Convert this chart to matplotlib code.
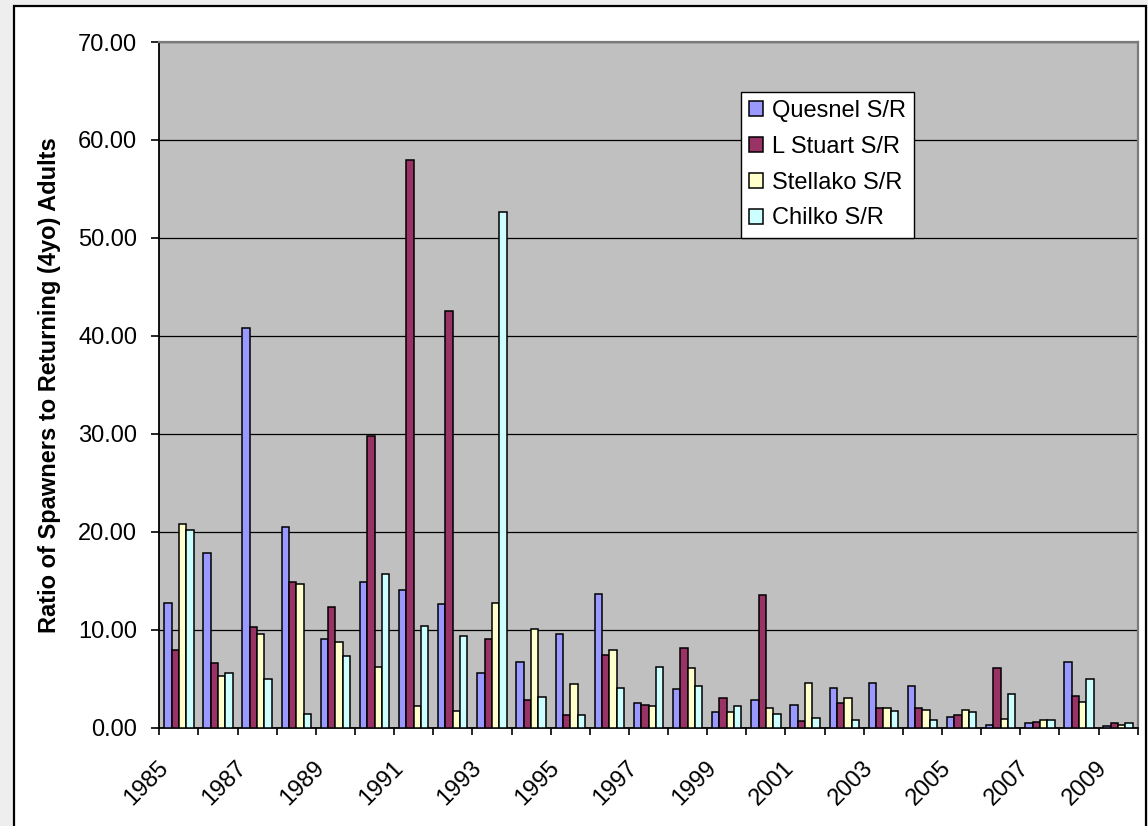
import matplotlib
matplotlib.use("Agg")
import matplotlib.pyplot as plt
from matplotlib.patches import Rectangle
from matplotlib.transforms import ScaledTranslation
import numpy as np

years = list(range(1985, 2010))
series_names = ["Quesnel S/R", "L Stuart S/R", "Stellako S/R", "Chilko S/R"]
quesnel = [12.7, 17.8, 40.8, 20.45, 9.0, 14.9, 14.0, 12.6, 5.6, 6.7, 9.5, 13.65, 2.5,
           3.9, 1.55, 2.8, 2.33, 4.06, 4.5, 4.2, 1.06, 0.3, 0.45, 6.67, 0.14]
l_stuart = [7.9, 6.55, 10.25, 14.9, 12.3, 29.8, 57.9, 42.5, 9.0, 2.8, 1.25, 7.45, 2.3,
            8.1, 2.98, 13.5, 0.63, 2.5, 2.0, 2.0, 1.24, 6.1, 0.58, 3.26, 0.41]
stellako = [20.8, 5.25, 9.5, 14.7, 8.7, 6.2, 2.15, 1.7, 12.75, 10.1, 4.4, 7.9, 2.2,
            6.07, 1.55, 2.0, 4.5, 2.98, 2.0, 1.8, 1.82, 0.9, 0.75, 2.6, 0.27]
chilko = [20.2, 5.6, 4.95, 1.4, 7.3, 15.7, 10.4, 9.35, 52.6, 3.1, 1.25, 4.0, 6.2,
          4.2, 2.2, 1.4, 0.94, 0.8, 1.7, 0.72, 1.55, 3.4, 0.75, 4.98, 0.45]
colors = ["#9999FF", "#993366", "#FFFFCC", "#CCFFFF"]
y_ticks = [0, 10, 20, 30, 40, 50, 60, 70]
y_label = "Ratio of Spawners to Returning (4yo) Adults"

plt.rcParams['font.family'] = ['Liberation Sans', 'DejaVu Sans']
FS = 17

W, H = 1148, 826
fig = plt.figure(figsize=(W / 100, H / 100), dpi=100, facecolor="#eeeeee")
# outer chart-area frame
fig.patches.append(Rectangle((14 / W, -0.05), (1146 - 14) / W, 1.05 - 6 / H,
                             transform=fig.transFigure, facecolor="white",
                             edgecolor="black", linewidth=1.6, zorder=-10))

left, right, top, bottom = 159.3, 1137.7, 42, 727.5
ax = fig.add_axes([left / W, 1 - bottom / H, (right - left) / W, (bottom - top) / H])
ax.set_zorder(1)
ax.set_facecolor("#C0C0C0")

x = np.arange(len(years))
w = 0.1875
data = [quesnel, l_stuart, stellako, chilko]
for k, (name, vals, c) in enumerate(zip(series_names, data, colors)):
    ax.bar(x + (k - 1.5) * w, vals, width=w, color=c, edgecolor="black",
           linewidth=1.1, label=name, zorder=3)

ax.set_xlim(-0.5, len(years) - 0.5)
ax.set_ylim(0, 70)
ax.set_yticks(y_ticks)
ax.set_yticklabels([f"{v:.2f}" for v in y_ticks], fontsize=FS)
ax.yaxis.grid(True, color="black", linewidth=0.9, zorder=1)
ax.set_axisbelow(True)

ax.set_xticks(x[::2])
ax.set_xticklabels([str(y) for y in years[::2]], fontsize=FS)
ax.set_xticks(np.arange(len(years) + 1) - 0.5, minor=True)
ax.tick_params(axis="x", which="major", length=0, pad=27)
ax.tick_params(axis="x", which="minor", length=5, width=1.2, color="black", direction="out")
ax.tick_params(axis="y", which="major", length=5.8, width=1.2, color="black", pad=10)
offset = ScaledTranslation(-0.14, 0, fig.dpi_scale_trans)
for lab in ax.get_xticklabels():
    lab.set_rotation(45)
    lab.set_ha("right")
    lab.set_va("center")
    lab.set_rotation_mode("anchor")
    lab.set_transform(lab.get_transform() + offset)

for s in ["left", "bottom"]:
    ax.spines[s].set_color("black")
    ax.spines[s].set_linewidth(1.3)
for s in ["top", "right"]:
    ax.spines[s].set_color("#7a7a7a")
    ax.spines[s].set_linewidth(1.6)

ax.set_ylabel(y_label, fontsize=FS, fontweight="bold", va="center")
ax.yaxis.set_label_coords((50 - left) / (right - left), 0.5)

leg = ax.legend(loc="upper left",
                bbox_to_anchor=((741 - left) / (right - left), 1 - (92 - top) / (bottom - top)),
                borderaxespad=0, fontsize=FS, frameon=True, fancybox=False,
                shadow=False, framealpha=1, edgecolor="black",
                handlelength=0.6, handleheight=0.6, handletextpad=0.35,
                labelspacing=0.58, borderpad=0.35)
leg.get_frame().set_linewidth(1.0)

fig.savefig("out.png", dpi=100, facecolor=fig.get_facecolor())
